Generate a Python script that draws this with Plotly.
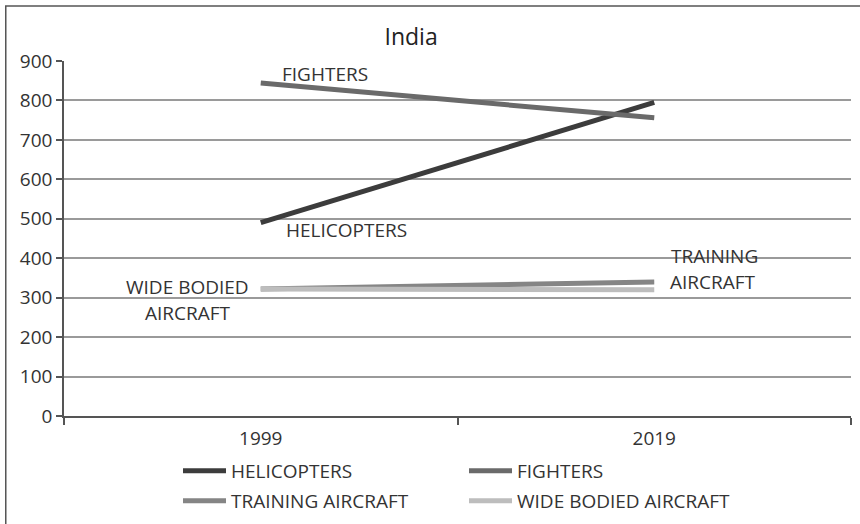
import plotly.graph_objects as go

years = ["1999", "2019"]
helicopters = [490, 795]
fighters = [844, 756]
training = [322, 340]
wide_bodied = [322, 320]

series = [
    ("HELICOPTERS", helicopters, "#3c3c3c", "legend"),
    ("FIGHTERS", fighters, "#6a6a6a", "legend"),
    ("TRAINING AIRCRAFT", training, "#858585", "legend2"),
    ("WIDE BODIED AIRCRAFT", wide_bodied, "#bdbdbd", "legend2"),
]

FONT = "Open Sans"
TXT = "#333333"

fig = go.Figure()
for name, vals, color, lg in series:
    fig.add_trace(go.Scatter(
        x=years, y=vals, name=name, mode="lines",
        line=dict(color=color, width=5), legend=lg,
    ))

notes = [
    ("FIGHTERS", 0.163, 867),
    ("HELICOPTERS", 0.219, 472),
    ("WIDE BODIED", -0.185, 327),
    ("AIRCRAFT", -0.185, 261),
    ("TRAINING", 1.152, 406),
    ("AIRCRAFT", 1.15, 340),
]
for t, x, y in notes:
    fig.add_annotation(x=x, y=y, text=t, showarrow=False,
                       font=dict(family=FONT, size=19, color=TXT))

fig.add_shape(type="rect", xref="paper", yref="paper",
              x0=-0.074, x1=1.2, y0=-1, y1=1.155,
              line=dict(color="#555555", width=1.5), layer="below")

legend_common = dict(orientation="h", xref="container", yref="container",
                     x=178 / 860, xanchor="left", yanchor="middle",
                     entrywidth=228, entrywidthmode="pixels", itemwidth=43,
                     bgcolor="rgba(0,0,0,0)",
                     font=dict(family=FONT, size=19, color=TXT))

fig.update_layout(
    width=860, height=524,
    margin=dict(l=64, r=9, t=61, b=108, autoexpand=False),
    paper_bgcolor="white", plot_bgcolor="white",
    font=dict(family=FONT, size=19, color=TXT),
    title=dict(text="India", x=0.478, xanchor="center", y=0.93, yanchor="middle",
               font=dict(family=FONT, size=23, color="#222222")),
    xaxis=dict(type="category", tickson="boundaries", ticks="outside", ticklen=7,
               tickcolor="#555555", tickwidth=1.5, showline=True, linecolor="#555555",
               linewidth=1.5, showgrid=False, range=[-0.5, 1.5],
               ticklabelstandoff=4,
               tickfont=dict(family=FONT, size=19, color=TXT)),
    yaxis=dict(range=[0, 900], dtick=100, ticks="outside", ticklen=6,
               tickcolor="#555555", tickwidth=1.5, showline=True, linecolor="#555555",
               linewidth=1.5, showgrid=True, gridcolor="#9a9a9a", gridwidth=1.5,
               zeroline=False, tickfont=dict(family=FONT, size=19, color=TXT)),
    legend=dict(legend_common, y=1 - 471 / 524),
    legend2=dict(legend_common, y=1 - 501 / 524),
    showlegend=True,
)

fig.write_html("out.html")
